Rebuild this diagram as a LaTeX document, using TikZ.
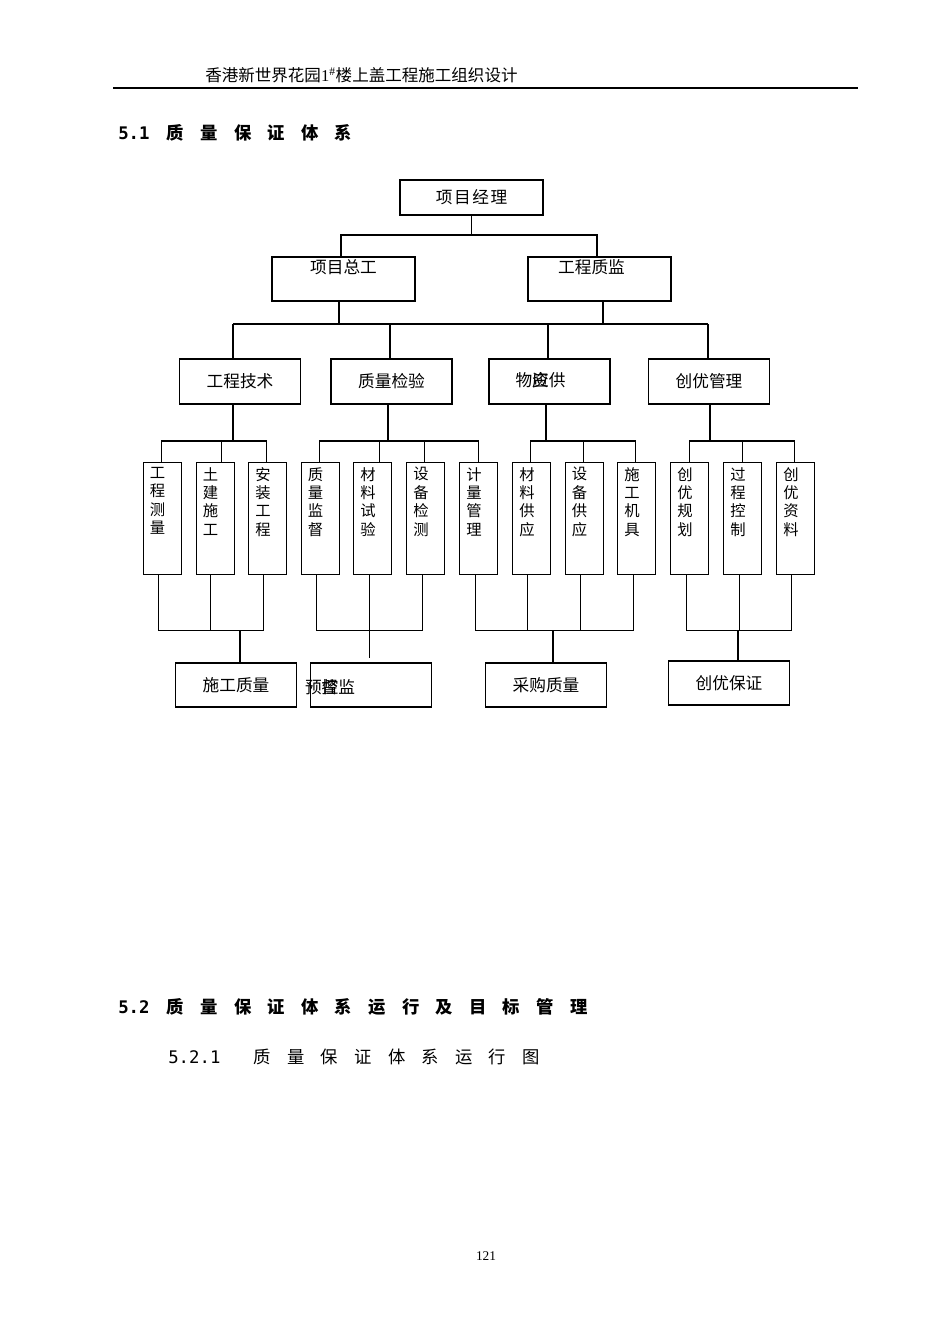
\documentclass[tikz,border=0pt]{standalone}
\usepackage{fontspec}
\usetikzlibrary{calc}
\setmainfont{Liberation Serif}
\newfontfamily\cjk{Noto Sans CJK SC}
\newfontfamily\monofnt{DejaVu Sans Mono}
\newcommand\gap{\kern12.2pt}
\tikzset{
  conn/.style={line width=0.8pt},
  box/.style={draw, line width=0.8pt, inner sep=0pt, font=\cjk\fontsize{12.5}{15}\selectfont},
  lone/.style={box, minimum width=107.25pt, minimum height=26.25pt},
  ltwo/.style={box, minimum width=107.25pt, minimum height=33pt},
  lthree/.style={box, minimum width=90.75pt, minimum height=33.75pt},
  lfive/.style={box, minimum width=90.5pt, minimum height=33pt},
  vbox/.style={draw, line width=0.8pt, minimum width=28.5pt, minimum height=84pt, inner sep=0pt, anchor=north west},
  vtext/.style={anchor=north, align=center, inner sep=0pt, font=\cjk\fontsize{11.5}{13.8}\selectfont},
  lbl/.style={anchor=center, inner sep=0pt, font=\cjk\fontsize{12.5}{15}\selectfont},
}
\begin{document}
\begin{tikzpicture}[x=0.75pt,y=-0.75pt]
\useasboundingbox (0,0) rectangle (950,1344);

% page header
\node[anchor=west, inner sep=0pt, font=\cjk\fontsize{12.4}{15}\selectfont] (hdr) at (205,75)
  {香港新世界花园{\rmfamily 1\textsuperscript{\#}}楼上盖工程施工组织设计};
\coordinate (hl) at (113,88);
\coordinate (hr) at (858,88);
\draw[line width=1.1pt] (hl) -- (hr);

% section heading
\node[anchor=west, inner sep=0pt, font=\fontsize{13}{16}\selectfont] (h51) at (118,133)
  {{\monofnt\bfseries 5.1}\kern13pt{\cjk\bfseries 质\gap 量\gap 保\gap 证\gap 体\gap 系}};

% level 1
\node[lone] (pm) at (471.5,197.5) {项\kern1.2pt 目\kern1.2pt 经\kern1.2pt 理};

% level 2
\node[ltwo, label={[lbl, yshift=-8.25pt]north:项目总工}] (zg) at (343.5,279) {};
\node[ltwo, label={[lbl, xshift=-6pt, yshift=-8.25pt]north:工程质监}] (zj) at (599.5,279) {};

% level 3
\node[lthree] (js) at (240,381.5) {工程技术};
\node[lthree] (jy) at (391.5,381.5) {质量检验};
\node[lthree, label={[lbl, xshift=-6.75pt, yshift=-16.5pt]north:物\rlap{资}应供}] (wz) at (549.5,381.5) {};
\node[lthree] (cy) at (709,381.5) {创优管理};

% level 4 boxes
\node[vbox] (v1) at (142.5,462) {};
\node[vbox] (v2) at (195.5,462) {};
\node[vbox] (v3) at (248,462) {};
\node[vbox] (v4) at (300.5,462) {};
\node[vbox] (v5) at (353,462) {};
\node[vbox] (v6) at (406,462) {};
\node[vbox] (v7) at (459,462) {};
\node[vbox] (v8) at (512,462) {};
\node[vbox] (v9) at (564.5,462) {};
\node[vbox] (v10) at (617,462) {};
\node[vbox] (v11) at (670,462) {};
\node[vbox] (v12) at (723,462) {};
\node[vbox] (v13) at (776,462) {};
\node[vtext] (t1) at ($(v1.north)+(-4.5,5)$) {工\\程\\测\\量};
\node[vtext] (t2) at ($(v2.north)+(-4.5,5)$) {土\\建\\施\\工};
\node[vtext] (t3) at ($(v3.north)+(-4.5,5)$) {安\\装\\工\\程};
\node[vtext] (t4) at ($(v4.north)+(-4.5,5)$) {质\\量\\监\\督};
\node[vtext] (t5) at ($(v5.north)+(-4.5,5)$) {材\\料\\试\\验};
\node[vtext] (t6) at ($(v6.north)+(-4.5,5)$) {设\\备\\检\\测};
\node[vtext] (t7) at ($(v7.north)+(-4.5,5)$) {计\\量\\管\\理};
\node[vtext] (t8) at ($(v8.north)+(-4.5,5)$) {材\\料\\供\\应};
\node[vtext] (t9) at ($(v9.north)+(-4.5,5)$) {设\\备\\供\\应};
\node[vtext] (t10) at ($(v10.north)+(-4.5,5)$) {施\\工\\机\\具};
\node[vtext] (t11) at ($(v11.north)+(-4.5,5)$) {创\\优\\规\\划};
\node[vtext] (t12) at ($(v12.north)+(-4.5,5)$) {过\\程\\控\\制};
\node[vtext] (t13) at ($(v13.north)+(-4.5,5)$) {创\\优\\资\\料};

% level 5
\node[lfive] (s1) at (236,685) {施工质量};
\node[lfive, label={[lbl, xshift=-30.75pt, yshift=-18.75pt]north:预\rlap{控}督监}] (s2) at (371,685) {};
\node[lfive] (s3) at (546,685) {采购质量};
\node[lfive] (s4) at (729,683) {创优保证};

% connectors level 1 -> 2
\coordinate (b1) at (471.5,235);
\draw[conn] (pm.south) -- (b1);
\draw[conn] ($(zg.north)+(-2.5,0)$) |- (b1) -| ($(zj.north)+(-2.5,0)$);

% level 2 -> 3
\coordinate (b2l) at (233,324);
\coordinate (b2r) at (708,324);
\draw[conn] (b2l) -- (b2r);
\draw[conn] ($(zg.south)+(-4.5,0)$) |- (b2l);
\draw[conn] ($(zj.south)+(3.5,0)$) |- (b2r);
\draw[conn] (b2l) -- ($(js.north)+(-7,0)$);
\draw[conn] ($(jy.north)+(-1.5,0)$) |- (b2l);
\draw[conn] ($(wz.north)+(-1.5,0)$) |- (b2l);
\draw[conn] (b2r) -- ($(cy.north)+(-1,0)$);

% level 3 -> 4
\coordinate (g1) at (233,441);
\coordinate (g2) at (388,441);
\coordinate (g3) at (546,441);
\coordinate (g4) at (710,441);
\draw[conn] ($(js.south)+(-7,0)$) -- (g1);
\draw[conn] ($(v1.north)+(-1,0)$) |- (g1);
\draw[conn] ($(v2.north)+(6.5,0)$) |- (g1);
\draw[conn] ($(v3.north)+(-1,0)$) |- (g1);
\draw[conn] ($(jy.south)+(-3.5,0)$) -- (g2);
\draw[conn] ($(v4.north)+(-1,0)$) |- (g2);
\draw[conn] ($(v5.north)+(6.5,0)$) |- (g2);
\draw[conn] ($(v6.north)+(-1,0)$) |- (g2);
\draw[conn] (v7.north) |- (g2);
\draw[conn] ($(wz.south)+(-3.5,0)$) -- (g3);
\draw[conn] ($(v8.north)+(-1,0)$) |- (g3);
\draw[conn] ($(v9.north)+(-0.5,0)$) |- (g3);
\draw[conn] ($(v10.north)+(-1,0)$) |- (g3);
\draw[conn] ($(cy.south)+(1,0)$) -- (g4);
\draw[conn] (v11.north) |- (g4);
\draw[conn] (v12.north) |- (g4);
\draw[conn] ($(v13.north)+(-1,0)$) |- (g4);

% level 4 -> 5
\coordinate (h1) at (240,630.5);
\coordinate (h2) at (369.5,630.5);
\coordinate (h3) at (553,630.5);
\coordinate (h4) at (738,630.5);
\draw[conn] ($(v1.south)+(-4,0)$) |- (h1);
\draw[conn] ($(v2.south)+(-4.5,0)$) |- (h1);
\draw[conn] ($(v3.south)+(-4,0)$) |- (h1);
\draw[conn] (h1) -- ($(s1.north)+(4,0)$);
\draw[conn] ($(v4.south)+(-4,0)$) |- (h2);
\draw[conn] ($(v5.south)+(-3.5,0)$) |- (h2);
\draw[conn] ($(v6.south)+(-3,0)$) |- (h2);
\draw[conn] ($(h2)+(0,-3)$) -- ($(s2.north)+(-1.5,-4.5)$);
\draw[conn] ($(v7.south)+(-3,0)$) |- (h3);
\draw[conn] ($(v8.south)+(-4,0)$) |- (h3);
\draw[conn] ($(v9.south)+(-3.5,0)$) |- (h3);
\draw[conn] ($(v10.south)+(-3,0)$) |- (h3);
\draw[conn] (h3) -- ($(s3.north)+(7,0)$);
\draw[conn] ($(v11.south)+(-3,0)$) |- (h4);
\draw[conn] ($(v12.south)+(-3,0)$) |- (h4);
\draw[conn] ($(v13.south)+(-4,0)$) |- (h4);
\draw[conn] (h4) -- ($(s4.north)+(9,0)$);

% section 5.2
\node[anchor=west, inner sep=0pt, font=\fontsize{13}{16}\selectfont] (h52) at (118,1007)
  {{\monofnt\bfseries 5.2}\kern13pt{\cjk\bfseries 质\gap 量\gap 保\gap 证\gap 体\gap 系\gap 运\gap 行\gap 及\gap 目\gap 标\gap 管\gap 理}};
\node[anchor=west, inner sep=0pt, font=\fontsize{13}{16}\selectfont] (h521) at (168,1057)
  {{\monofnt 5.2.1}\kern25pt{\cjk 质\gap 量\gap 保\gap 证\gap 体\gap 系\gap 运\gap 行\gap 图}};

% page number
\node[inner sep=0pt, font=\fontsize{10}{12}\selectfont] (pg) at (486,1256) {121};
\end{tikzpicture}
\end{document}
